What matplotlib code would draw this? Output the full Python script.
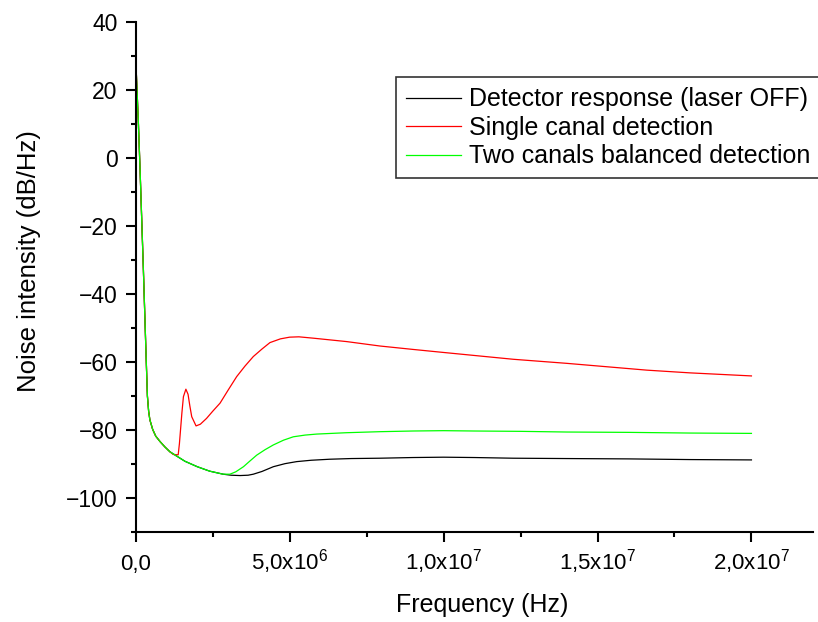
import matplotlib
matplotlib.use("Agg")
import matplotlib.pyplot as plt
from matplotlib.ticker import MultipleLocator

plt.rcParams['font.family'] = ['Liberation Sans', 'DejaVu Sans']
plt.rcParams['mathtext.fontset'] = 'custom'
plt.rcParams['mathtext.rm'] = 'Liberation Sans'

# ---- data (Hz, dB/Hz) ----
freq_black = [0, 0.4e5, 0.84e5, 1.4e5, 1.95e5, 2.5e5, 3.0e5, 3.4e5, 3.8e5, 4.2e5,
              4.6e5, 5.5e5, 6.5e5, 7.9e5, 9.5e5, 1.11e6, 1.3e6, 1.6e6, 2.0e6, 2.4e6,
              2.84e6, 3.1e6, 3.39e6, 3.65e6, 3.82e6, 4.1e6, 4.47e6, 4.85e6, 5.23e6,
              5.7e6, 6.3e6, 7.0e6, 7.93e6, 9e6, 1.0e7, 1.1e7, 1.226e7, 1.4e7, 1.6e7,
              1.8e7, 2.0e7]
noise_black = [29.5, 20.5, 11, -3, -18, -33, -47.5, -59, -70, -74.5,
               -77, -79.8, -81.8, -83.4, -85.0, -86.4, -87.5, -89.2, -90.8, -92.1,
               -93.0, -93.3, -93.4, -93.3, -93.0, -92.2, -90.8, -89.9, -89.3,
               -88.9, -88.6, -88.4, -88.3, -88.1, -88.0, -88.1, -88.3, -88.4, -88.5,
               -88.7, -88.8]

freq_red = [0, 0.4e5, 0.84e5, 1.4e5, 1.95e5, 2.5e5, 3.0e5, 3.4e5, 3.8e5, 4.2e5,
            4.6e5, 5.5e5, 6.5e5, 7.9e5, 9.5e5, 1.11e6, 1.22e6, 1.38e6, 1.42e6, 1.5e6,
            1.55e6, 1.63e6, 1.7e6, 1.76e6, 1.82e6, 1.96e6, 2.1e6, 2.3e6, 2.5e6, 2.74e6,
            3.0e6, 3.28e6, 3.55e6, 3.82e6, 4.1e6, 4.36e6, 4.7e6, 5.0e6, 5.3e6, 5.77e6,
            6.85e6, 7.93e6, 9e6, 1.0e7, 1.226e7, 1.4e7, 1.66e7, 1.8e7, 2.0e7]
noise_red = [29.5, 20.5, 11, -3, -18, -33, -47.5, -59, -70, -74.5,
             -77, -79.8, -81.8, -83.4, -85.0, -86.4, -87.2, -87.3, -84, -75,
             -70.2, -68.0, -69.5, -73, -76.1, -78.8, -78.3, -76.6, -74.5, -72.1,
             -68.3, -64.3, -61.2, -58.4, -56.2, -54.3, -53.2, -52.7, -52.6, -53.0,
             -54.0, -55.3, -56.3, -57.2, -59.2, -60.4, -62.4, -63.2, -64.1]

freq_green = [0, 0.4e5, 0.84e5, 1.4e5, 1.95e5, 2.5e5, 3.0e5, 3.4e5, 3.8e5, 4.2e5,
              4.6e5, 5.5e5, 6.5e5, 7.9e5, 9.5e5, 1.11e6, 1.3e6, 1.6e6, 2.0e6, 2.4e6,
              2.84e6, 3.06e6, 3.25e6, 3.5e6, 3.7e6, 3.93e6, 4.2e6, 4.47e6, 4.8e6,
              5.12e6, 5.5e6, 5.88e6, 6.85e6, 7.93e6, 9e6, 1.0e7, 1.1e7, 1.25e7, 1.4e7,
              1.6e7, 1.8e7, 2.0e7]
noise_green = [29.5, 20.5, 11, -3, -18, -33, -47.5, -59, -70, -74.5,
               -77, -79.8, -81.8, -83.4, -85.0, -86.4, -87.5, -89.2, -90.8, -92.1,
               -93.0, -93.0, -92.3, -90.8, -89.2, -87.4, -85.8, -84.4, -83.0,
               -82.0, -81.5, -81.2, -80.8, -80.5, -80.3, -80.2, -80.3, -80.4, -80.6,
               -80.7, -80.9, -81.0]

labels = ['Detector response (laser OFF)', 'Single canal detection',
          'Two canals balanced detection']
xtick_vals = [0, 5e6, 1e7, 1.5e7, 2e7]
xtick_labels = ['0,0', r'5,0x10$^{6}$', r'1,0x10$^{7}$', r'1,5x10$^{7}$', r'2,0x10$^{7}$']
ytick_vals = [-100, -80, -60, -40, -20, 0, 20, 40]

fig = plt.figure(figsize=(8.18, 6.22), dpi=100)
ax = fig.add_axes([0.1659, 0.1447, 0.828, 0.82])

ax.plot(freq_black, noise_black, color='black', lw=0.9, label=labels[0])
ax.plot(freq_red, noise_red, color='#ff0000', lw=0.9, label=labels[1])
ax.plot(freq_green, noise_green, color='#00ff00', lw=0.9, label=labels[2])

ax.set_xlim(0, 2.2e7)
ax.set_ylim(-110, 40)
ax.set_xticks(xtick_vals)
ax.set_xticklabels(xtick_labels)
ax.set_yticks(ytick_vals)
ax.xaxis.set_minor_locator(MultipleLocator(2.5e6))
ax.yaxis.set_minor_locator(MultipleLocator(10))

for side in ['top', 'right']:
    ax.spines[side].set_visible(False)
for side in ['left', 'bottom']:
    ax.spines[side].set_linewidth(1.5)

ax.tick_params(which='major', direction='out', length=7, width=1.5)
ax.tick_params(which='minor', direction='out', length=3.8, width=1.5)
ax.tick_params(axis='y', labelsize=16.5, pad=6)
ax.tick_params(axis='x', labelsize=16, pad=20.3)
for lbl in ax.get_xticklabels():
    lbl.set_verticalalignment('baseline')

ax.set_xlabel('Frequency (Hz)', fontsize=18)
ax.xaxis.set_label_coords((482 - 135.7) / 677, (622 - 593 - 90) / 510)
ax.set_ylabel('Noise intensity (dB/Hz)', fontsize=18.5)
ax.yaxis.set_label_coords((41 - 135.7) / 677, (622 - 261 - 90) / 510)

leg = ax.legend(loc='upper left', bbox_to_anchor=(395.7 / 818, 1 - 77.3 / 622),
                bbox_transform=fig.transFigure, fontsize=18, frameon=True,
                fancybox=False, borderaxespad=0, handlelength=2.2,
                handletextpad=0.35, labelspacing=0.18, borderpad=0.4)
leg.get_frame().set_edgecolor('black')
leg.get_frame().set_linewidth(1.2)

fig.savefig('out.png', dpi=100)
